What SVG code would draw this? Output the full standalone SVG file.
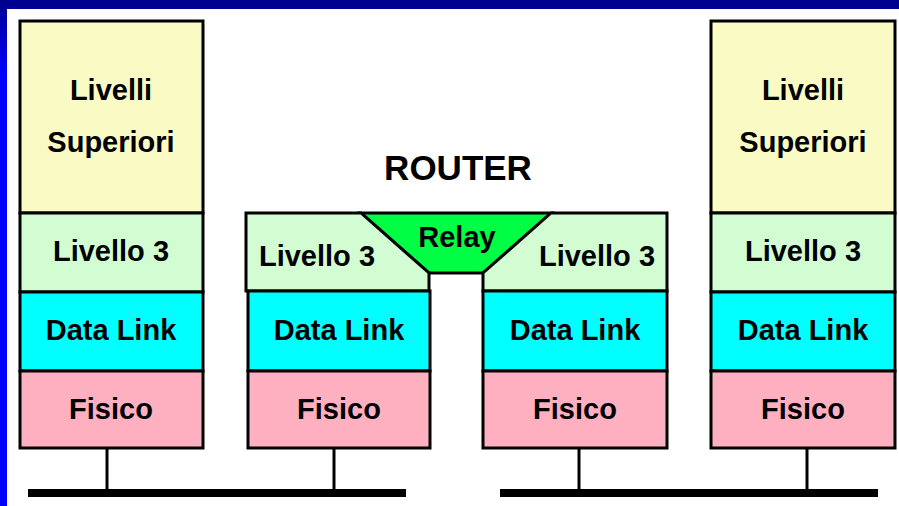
<svg xmlns="http://www.w3.org/2000/svg" width="899" height="506" viewBox="0 0 899 506">
<defs>
<linearGradient id="lg" x1="0" y1="0" x2="0" y2="1">
<stop offset="0" stop-color="#000090"/>
<stop offset="0.15" stop-color="#0000ff"/>
<stop offset="1" stop-color="#0000ff"/>
</linearGradient>
</defs>
<style>
.b{stroke:#000;stroke-width:3;stroke-linejoin:miter}
.sup{fill:#fafac4}
.l3{fill:#d2fdd2}
.dl{fill:#00ffff}
.fi{fill:#ffb0c0}
.rl{fill:#00ff44}
text{font-family:"Liberation Sans",Arial,sans-serif;font-weight:bold;font-size:29px;fill:#000;text-anchor:middle}
.ln{stroke:#000;stroke-width:3;fill:none}
.bus{fill:#000}
</style>
<rect x="0" y="0" width="899" height="506" fill="#fff"/>
<rect x="0" y="0" width="7" height="506" fill="url(#lg)"/>
<rect x="0" y="0" width="899" height="9" fill="#000090"/>

<g id="host-left">
<rect class="b sup" x="20" y="21" width="183" height="192"/>
<rect class="b l3" x="20" y="213" width="183" height="79"/>
<rect class="b dl" x="20" y="292" width="183" height="79"/>
<rect class="b fi" x="20" y="371" width="183" height="77"/>
<text x="111" y="100">Livelli</text>
<text x="111" y="152">Superiori</text>
<text x="111" y="261">Livello 3</text>
<text x="111" y="340">Data Link</text>
<text x="111" y="419">Fisico</text>
</g>

<g id="router">
<text x="458" y="180" style="font-size:35px">ROUTER</text>
<polygon class="b rl" points="361,213 551,213 483,273 429,273"/>
<polygon class="b l3" points="246,213 361,213 429,273 429,291 246,291"/>
<polygon class="b l3" points="551,213 667,213 667,291 483,291 483,273"/>
<rect class="b dl" x="248" y="291" width="182" height="80"/>
<rect class="b fi" x="248" y="371" width="182" height="77"/>
<rect class="b dl" x="483" y="291" width="184" height="80"/>
<rect class="b fi" x="483" y="371" width="184" height="77"/>
<text x="457" y="247">Relay</text>
<text x="317" y="266">Livello 3</text>
<text x="597" y="266">Livello 3</text>
<text x="339" y="340">Data Link</text>
<text x="339" y="419">Fisico</text>
<text x="575" y="340">Data Link</text>
<text x="575" y="419">Fisico</text>
</g>

<g id="host-right">
<rect class="b sup" x="711" y="21" width="184" height="192"/>
<rect class="b l3" x="711" y="213" width="184" height="79"/>
<rect class="b dl" x="711" y="292" width="184" height="79"/>
<rect class="b fi" x="711" y="371" width="184" height="77"/>
<text x="803" y="100">Livelli</text>
<text x="803" y="152">Superiori</text>
<text x="803" y="261">Livello 3</text>
<text x="803" y="340">Data Link</text>
<text x="803" y="419">Fisico</text>
</g>

<g id="connectors">
<line class="ln" x1="107" y1="449" x2="107" y2="490"/>
<line class="ln" x1="334" y1="449" x2="334" y2="490"/>
<line class="ln" x1="579" y1="449" x2="579" y2="490"/>
<line class="ln" x1="807" y1="449" x2="807" y2="490"/>
<rect class="bus" x="28" y="489" width="378" height="8"/>
<rect class="bus" x="500" y="489" width="378" height="8"/>
</g>
</svg>
